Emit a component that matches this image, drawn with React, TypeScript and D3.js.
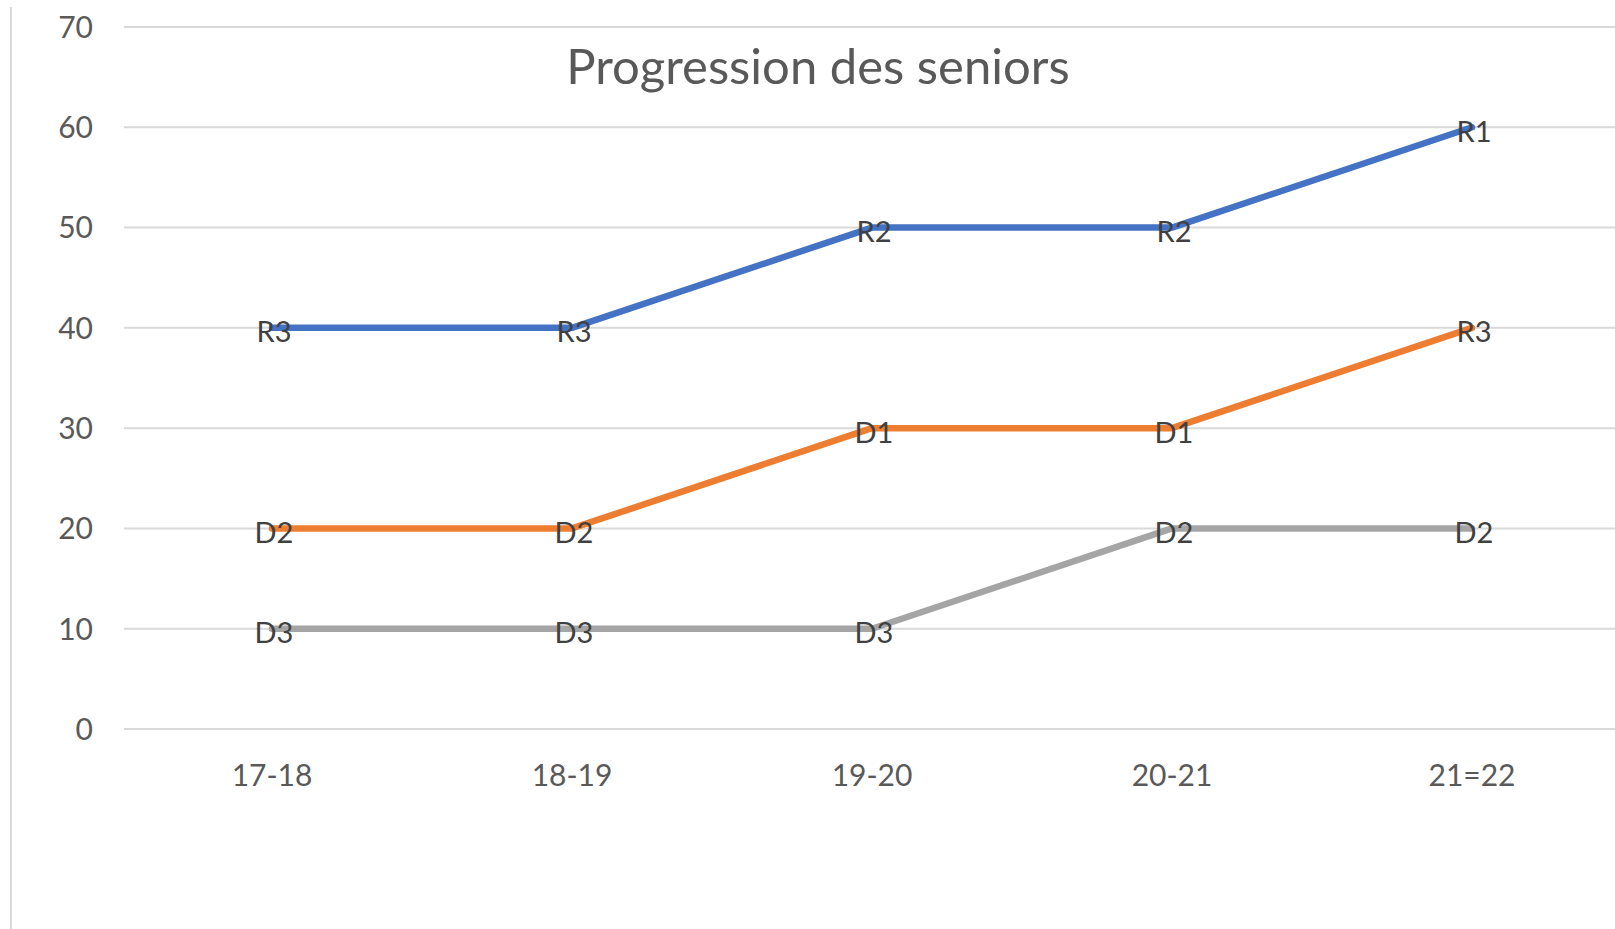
import React, { useEffect, useRef } from 'react';
import * as d3 from 'd3';

const categories = ['17-18', '18-19', '19-20', '20-21', '21=22'];
const yTicks = [0, 10, 20, 30, 40, 50, 60, 70];

const blueValues = [40, 40, 50, 50, 60];
const blueLabels = ['R3', 'R3', 'R2', 'R2', 'R1'];
const orangeValues = [20, 20, 30, 30, 40];
const orangeLabels = ['D2', 'D2', 'D1', 'D1', 'R3'];
const grayValues = [10, 10, 10, 20, 20];
const grayLabels = ['D3', 'D3', 'D3', 'D2', 'D2'];

const WIDTH = 1615;
const HEIGHT = 929;
const FONT = 'Lato, "Open Sans", sans-serif';

export default function App() {
  const svgRef = useRef<SVGSVGElement>(null);

  useEffect(() => {
    if (!svgRef.current) return;
    const svg = d3.select(svgRef.current);
    svg.selectAll('*').remove();

    const series = [
      { values: blueValues, labels: blueLabels, color: '#4472C4' },
      { values: orangeValues, labels: orangeLabels, color: '#ED7D31' },
      { values: grayValues, labels: grayLabels, color: '#A5A5A5' },
    ];

    const x = d3.scalePoint<string>()
      .domain(categories)
      .range([122, 1622])
      .padding(0.5);

    const y = d3.scaleLinear()
      .domain([0, 70])
      .range([729, 27]);

    svg.append('rect')
      .attr('width', WIDTH)
      .attr('height', HEIGHT)
      .attr('fill', '#ffffff');

    // left frame edge
    svg.append('line')
      .attr('x1', 11).attr('x2', 11)
      .attr('y1', 7).attr('y2', HEIGHT)
      .attr('stroke', '#d9d9d9')
      .attr('stroke-width', 2);

    // gridlines
    svg.append('g')
      .selectAll('line')
      .data(yTicks)
      .join('line')
      .attr('x1', 124)
      .attr('x2', WIDTH)
      .attr('y1', d => y(d))
      .attr('y2', d => y(d))
      .attr('stroke', '#d9d9d9')
      .attr('stroke-width', 2);

    // y tick labels
    svg.append('g')
      .selectAll('text')
      .data(yTicks)
      .join('text')
      .attr('x', 93)
      .attr('y', d => y(d))
      .attr('dy', '0.36em')
      .attr('text-anchor', 'end')
      .attr('fill', '#595959')
      .style('font-family', FONT)
      .style('font-size', '30px')
      .text(d => d);

    // x tick labels
    svg.append('g')
      .selectAll('text')
      .data(categories)
      .join('text')
      .attr('x', d => x(d)!)
      .attr('y', 775)
      .attr('dy', '0.36em')
      .attr('text-anchor', 'middle')
      .attr('fill', '#595959')
      .style('font-family', FONT)
      .style('font-size', '30px')
      .text(d => d);

    // title
    svg.append('text')
      .attr('x', 818)
      .attr('y', 66)
      .attr('dy', '0.36em')
      .attr('text-anchor', 'middle')
      .attr('fill', '#595959')
      .style('font-family', FONT)
      .style('font-size', '49px')
      .text('Progression des seniors');

    const line = d3.line<number>()
      .x((_, i) => x(categories[i])!)
      .y(d => y(d));

    series.forEach(s => {
      svg.append('path')
        .datum(s.values)
        .attr('d', line)
        .attr('fill', 'none')
        .attr('stroke', s.color)
        .attr('stroke-width', 6.5)
        .attr('stroke-linejoin', 'round')
        .attr('stroke-linecap', 'round');
    });

    series.forEach(s => {
      svg.append('g')
        .selectAll('text')
        .data(s.values)
        .join('text')
        .attr('x', (_, i) => x(categories[i])! + 2)
        .attr('y', d => y(d) + 4)
        .attr('dy', '0.36em')
        .attr('text-anchor', 'middle')
        .attr('fill', '#404040')
        .style('font-family', FONT)
        .style('font-size', '29px')
        .text((_, i) => s.labels[i]);
    });
  }, []);

  return (
    <svg
      ref={svgRef}
      width={WIDTH}
      height={HEIGHT}
      style={{ position: 'absolute', top: 0, left: 0, display: 'block' }}
    />
  );
}
